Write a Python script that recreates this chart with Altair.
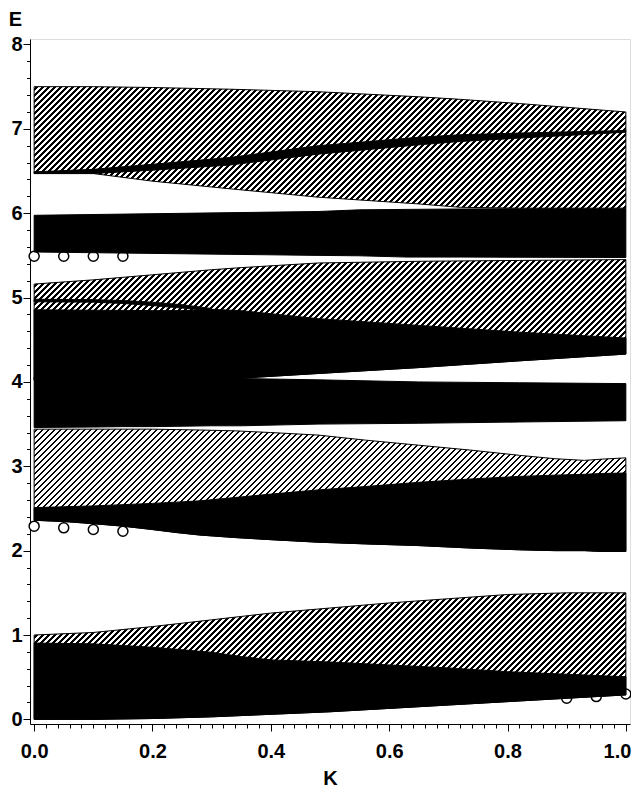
import altair as alt
import pandas as pd

# ---------------- data ----------------
# group 1 (bottom)
K1 = [0.0, 0.1, 0.2, 0.3, 0.35, 0.4, 0.5, 0.6, 0.7, 0.8, 0.9, 1.0]
black1_lo = [0.0, 0.0, 0.01, 0.03, 0.045, 0.06, 0.09, 0.13, 0.17, 0.21, 0.25, 0.29]
black1_hi = [0.905, 0.895, 0.855, 0.795, 0.745, 0.705, 0.68, 0.645, 0.61, 0.565, 0.535, 0.505]
hatch1_hi = [1.0, 1.03, 1.1, 1.18, 1.22, 1.26, 1.32, 1.38, 1.43, 1.48, 1.5, 1.5]

# group 2
K2 = [0.0, 0.05, 0.1, 0.15, 0.2, 0.24, 0.28, 0.34, 0.4, 0.48, 0.56, 0.65, 0.74, 0.82, 0.88, 0.93, 0.96, 1.0]
black2_lo = [2.36, 2.345, 2.32, 2.29, 2.25, 2.215, 2.185, 2.155, 2.13, 2.10, 2.08, 2.06, 2.03, 2.01, 2.0, 2.0, 1.99, 1.99]
black2_hi = [2.51, 2.52, 2.53, 2.545, 2.56, 2.575, 2.59, 2.63, 2.67, 2.72, 2.76, 2.81, 2.85, 2.88, 2.895, 2.905, 2.915, 2.92]
hatch2_hi = [3.44, 3.44, 3.44, 3.44, 3.44, 3.435, 3.43, 3.42, 3.40, 3.37, 3.31, 3.25, 3.19, 3.13, 3.09, 3.07, 3.085, 3.10]

# group 3
K3 = [0.0, 0.1, 0.15, 0.2, 0.25, 0.3, 0.35, 0.48, 0.65, 0.82, 1.0]
blackA_lo = [3.46, 3.465, 3.47, 3.47, 3.475, 3.48, 3.48, 3.50, 3.51, 3.525, 3.54]
blackA_hi = [4.06, 4.055, 4.05, 4.05, 4.045, 4.045, 4.04, 4.025, 4.0, 3.99, 3.98]
blackB_lo = [4.02, 4.02, 4.025, 4.025, 4.03, 4.035, 4.045, 4.10, 4.17, 4.25, 4.33]
blackB_hi = [4.855, 4.85, 4.848, 4.845, 4.845, 4.86, 4.845, 4.75, 4.67, 4.59, 4.52]
hatch3_hi = [5.16, 5.21, 5.24, 5.27, 5.30, 5.33, 5.355, 5.41, 5.43, 5.44, 5.45]
Kthin = [0.0, 0.1, 0.15, 0.2, 0.25, 0.3]
thin3_lo = [4.95, 4.945, 4.93, 4.905, 4.875, 4.845]
thin3_hi = [4.98, 4.975, 4.965, 4.945, 4.915, 4.87]

# group 4
K4 = [0.0, 0.48, 0.55, 0.63, 0.72, 1.0]
black4_lo = [5.54, 5.50, 5.495, 5.48, 5.48, 5.475]
black4_hi = [5.975, 6.02, 6.04, 6.045, 6.05, 6.06]

# group 5 (top)
K5 = [0.0, 0.1, 0.2, 0.33, 0.48, 0.65, 0.72, 0.82, 1.0]
hatch5_lo = [6.47, 6.47, 6.38, 6.29, 6.19, 6.11, 6.07, 6.06, 6.06]
hatch5_hi = [7.50, 7.50, 7.49, 7.47, 7.44, 7.38, 7.35, 7.30, 7.20]
black5_lo = [6.47, 6.47, 6.51, 6.57, 6.70, 6.81, 6.85, 6.89, 6.96]
black5_hi = [6.49, 6.52, 6.58, 6.66, 6.80, 6.90, 6.93, 6.95, 6.98]

# open circles
circ_K = [0.0, 0.05, 0.1, 0.15, 0.0, 0.05, 0.1, 0.15, 0.9, 0.95, 1.0]
circ_E = [5.49, 5.49, 5.49, 5.49, 2.29, 2.27, 2.25, 2.23, 0.25, 0.27, 0.30]

# ---------------- layout / style ----------------
K_DOMAIN = [-0.007, 1.007]
E_DOMAIN = [-0.055, 8.065]
W_PLOT, H_PLOT = 600, 685
SX = W_PLOT / (K_DOMAIN[1] - K_DOMAIN[0])
SY = H_PLOT / (E_DOMAIN[1] - E_DOMAIN[0])
FONT = "Liberation Sans"
FS = 20
FW = "bold"
HATCH_PERIOD = 6.0   # px along x+y
HATCH_LINE = 2.3     # px along x+y


def hatch_fill(K, lo, hi):
    """Diagonal '/' stripes as a linear gradient in bounding-box units."""
    W = (max(K) - min(K)) * SX
    H = (max(hi) - min(lo)) * SY
    r = H / W
    s = (1 + r) / (1 + r * r)
    L = W + H
    stops = [alt.GradientStop(offset=0, color="white")]
    pos = 2.0
    while pos < L:
        a = pos / L
        b = min((pos + HATCH_LINE) / L, 1.0)
        stops += [alt.GradientStop(offset=a, color="white"),
                  alt.GradientStop(offset=a, color="black"),
                  alt.GradientStop(offset=b, color="black"),
                  alt.GradientStop(offset=b, color="white")]
        pos += HATCH_PERIOD
    stops.append(alt.GradientStop(offset=1, color="white"))
    return alt.Gradient(gradient="linear", x1=0, y1=0, x2=s, y2=s * r, stops=stops)


x_vals = [round(i * 0.02, 2) for i in range(51)]
y_vals = [round(i * 0.2, 1) for i in range(41)]
x_major_test = "abs(datum.value*5 - round(datum.value*5)) < 0.001"
y_major_test = "abs(datum.value - round(datum.value)) < 0.001"
last_test = "datum.value > 0.999"

x_enc = alt.X(
    "K:Q",
    scale=alt.Scale(domain=K_DOMAIN, nice=False, zero=False),
    axis=alt.Axis(
        values=x_vals,
        labelExpr=f"{x_major_test} ? format(datum.value, '.1f') : ''",
        tickSize={"condition": {"test": x_major_test, "value": 7}, "value": 4},
        labelAlign={"condition": {"test": last_test, "value": "right"}, "value": "center"},
        labelOffset={"condition": {"test": last_test, "value": 5}, "value": 0},
        tickColor="black", tickWidth=1, domainColor="black", domainWidth=1,
        labelFont=FONT, labelFontSize=FS, labelFontWeight=FW, labelColor="black",
        labelPadding=10, labelOverlap=False, labelFlush=False, grid=False,
        title="K", titleFont=FONT, titleFontSize=FS, titleFontWeight=FW,
        titleColor="black", titleY=54, titleBaseline="middle",
    ),
)
y_enc = alt.Y(
    "lo:Q",
    scale=alt.Scale(domain=E_DOMAIN, nice=False, zero=False),
    axis=alt.Axis(
        values=y_vals,
        labelExpr=f"{y_major_test} ? format(datum.value, 'd') : ''",
        tickSize={"condition": {"test": y_major_test, "value": 7}, "value": 3.5},
        tickColor="black", tickWidth=1, domainColor="black", domainWidth=1,
        labelFont=FONT, labelFontSize=FS, labelFontWeight=FW, labelColor="black",
        labelPadding=1, labelOverlap=False, labelFlush=False, grid=False,
        title="E", titleFont=FONT, titleFontSize=FS, titleFontWeight=FW,
        titleColor="black", titleAngle=0, titleX=-15, titleY=-20,
        titleAlign="center", titleBaseline="middle",
    ),
)


def band(K, lo, hi, hatched):
    df = pd.DataFrame({"K": K, "lo": lo, "hi": hi})
    if hatched:
        mark = alt.Chart(df).mark_area(fill=hatch_fill(K, lo, hi), stroke="black",
                                       strokeWidth=1, opacity=1)
    else:
        mark = alt.Chart(df).mark_area(fill="black", stroke="black", strokeWidth=1, opacity=1)
    return mark.encode(x=x_enc, y=y_enc, y2="hi:Q")


circles = alt.Chart(pd.DataFrame({"K": circ_K, "lo": circ_E})).mark_point(
    shape="circle", size=100, filled=True, color="white", stroke="black",
    strokeWidth=1.5, opacity=1
).encode(x=x_enc, y=y_enc)

layers = [
    circles,
    band(K1, black1_lo, hatch1_hi, True),
    band(K1, black1_lo, black1_hi, False),
    band(K2, black2_lo, hatch2_hi, True),
    band(K2, black2_lo, black2_hi, False),
    band(K3, blackB_lo, hatch3_hi, True),
    band(K3, blackA_lo, blackA_hi, False),
    band(K3, blackB_lo, blackB_hi, False),
    band(Kthin, thin3_lo, thin3_hi, False),
    band(K4, black4_lo, black4_hi, False),
    band(K5, hatch5_lo, hatch5_hi, True),
    band(K5, black5_lo, black5_hi, False),
]

chart = alt.layer(*layers).properties(
    width=W_PLOT, height=H_PLOT,
    autosize=alt.AutoSizeParams(type="none"),
    padding={"left": 22, "top": 31, "right": 1, "bottom": 70},
).configure_view(stroke="black", strokeWidth=1).configure(background="white")

chart.save("out.html", embed_options={"renderer": "svg", "actions": False})
